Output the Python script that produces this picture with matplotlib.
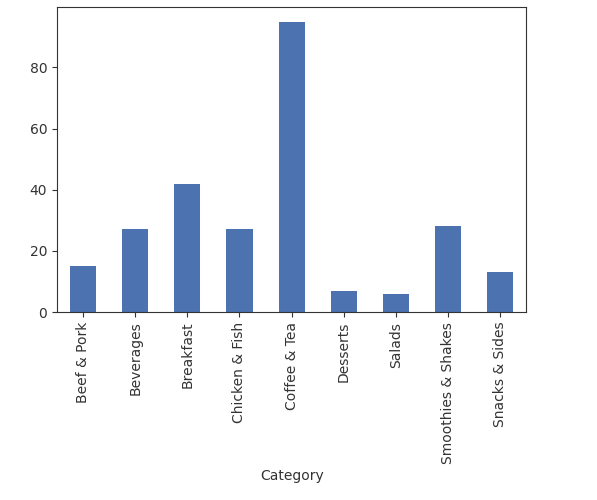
import matplotlib
matplotlib.use('Agg')
import matplotlib.pyplot as plt
import pandas as pd

categories = ['Beef & Pork', 'Beverages', 'Breakfast', 'Chicken & Fish', 'Coffee & Tea',
              'Desserts', 'Salads', 'Smoothies & Shakes', 'Snacks & Sides']
counts = [15, 27, 42, 27, 95, 7, 6, 28, 13]

s = pd.Series(counts, index=pd.Index(categories, name='Category'))

fig = plt.figure(figsize=(5.97, 5.0), dpi=100)
ax = fig.add_axes([0.0955, 0.376, 0.786, 0.61])
s.plot(kind='bar', ax=ax, color='#4C72B0', width=0.5)

for spine in ax.spines.values():
    spine.set_color('#333333')
ax.tick_params(colors='#333333', labelcolor='#333333', labelsize=10)
ax.set_xlabel('Category', color='#333333', fontsize=10)

plt.savefig('out.png', dpi=100)
plt.close()
